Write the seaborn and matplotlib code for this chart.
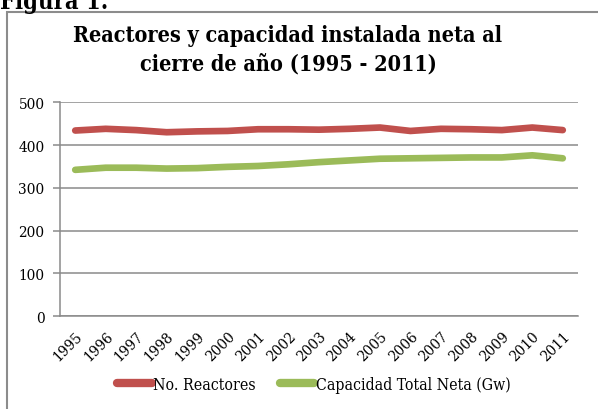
import pandas as pd
import matplotlib
matplotlib.use("Agg")
import matplotlib.pyplot as plt
import seaborn as sns
from matplotlib.patches import Rectangle

# Datos
anios = ['1995', '1996', '1997', '1998', '1999', '2000', '2001', '2002', '2003',
         '2004', '2005', '2006', '2007', '2008', '2009', '2010', '2011']
reactores = [434, 438, 435, 430, 432, 433, 437, 437, 436,
             438, 441, 433, 438, 437, 435, 441, 435]
capacidad = [342, 347, 347, 345, 346, 349, 351, 355, 360,
             364, 368, 369, 370, 371, 371, 376, 369]
series = ['No. Reactores', 'Capacidad Total Neta (Gw)']
colores = ['#C0504D', '#9BBB59']
y_ticks = [0, 100, 200, 300, 400, 500]

df = pd.DataFrame({
    'anio': anios * 2,
    'valor': reactores + capacidad,
    'serie': [series[0]] * len(anios) + [series[1]] * len(anios),
})

sns.set_style("white")
plt.rcParams['font.family'] = ['DejaVu Serif']
plt.rcParams['font.stretch'] = 'condensed'
plt.rcParams['text.color'] = 'black'
plt.rcParams['xtick.labelcolor'] = 'black'
plt.rcParams['ytick.labelcolor'] = 'black'

fig = plt.figure(figsize=(5.98, 4.10), dpi=100)
ax = fig.add_axes([0.1003, 0.2268, 0.8663, 0.5212])

# Marco del gráfico y texto "Figura 1."
fig.patches.append(Rectangle((7 / 598, -0.05), 1.2, 1 - 13 / 410 + 0.05, transform=fig.transFigure,
                             fill=False, edgecolor='#8c8c8c', linewidth=1.5))
fig.text(0.0, 1 - 9 / 410, 'Figura 1.', fontsize=17, fontweight='bold', va='baseline', ha='left')

sns.lineplot(data=df, x='anio', y='valor', hue='serie', palette=colores, ax=ax,
             linewidth=4.8, solid_capstyle='round', solid_joinstyle='round', legend=True, sort=False)

ax.set_xlim(-0.5, len(anios) - 0.5)
ax.set_ylim(0, 500)
ax.set_yticks(y_ticks)
ax.set_yticklabels([str(v) for v in y_ticks], fontsize=11)
ax.yaxis.grid(True, color='#8a8a8a', linewidth=1.1)
ax.set_axisbelow(True)

# marcas entre categorías, etiquetas en el centro
ax.set_xticks(range(len(anios)))
ax.set_xticklabels(anios, rotation=45, ha='right', rotation_mode='anchor', fontsize=11)
ax.set_xticks([i - 0.5 for i in range(len(anios) + 1)], minor=True)
ax.tick_params(axis='x', which='major', length=0, pad=9)
ax.tick_params(axis='x', which='minor', length=5, color='#8a8a8a', width=1.1, direction='out')
ax.tick_params(axis='y', length=5, color='#8a8a8a', width=1.1, direction='out', pad=6, left=True)
ax.set_xlabel('')
ax.set_ylabel('')

for lado in ['top', 'right']:
    ax.spines[lado].set_visible(False)
for lado in ['left', 'bottom']:
    ax.spines[lado].set_color('#8a8a8a')
    ax.spines[lado].set_linewidth(1.1)

ax.legend(title=None, loc='center', bbox_to_anchor=(0.49, -0.319), ncol=2, frameon=False,
          fontsize=11.3, handlelength=2.2, handletextpad=0.1, columnspacing=1.5)
for l in ax.get_legend().get_lines():
    l.set_linewidth(6)
    l.set_solid_capstyle('round')

fig.text(288 / 598, 1 - 50 / 410, 'Reactores y capacidad instalada neta al\ncierre de año (1995 - 2011)',
         ha='center', va='center', fontsize=15.5, fontweight='bold', linespacing=1.38)

fig.savefig('out.png', dpi=100)
